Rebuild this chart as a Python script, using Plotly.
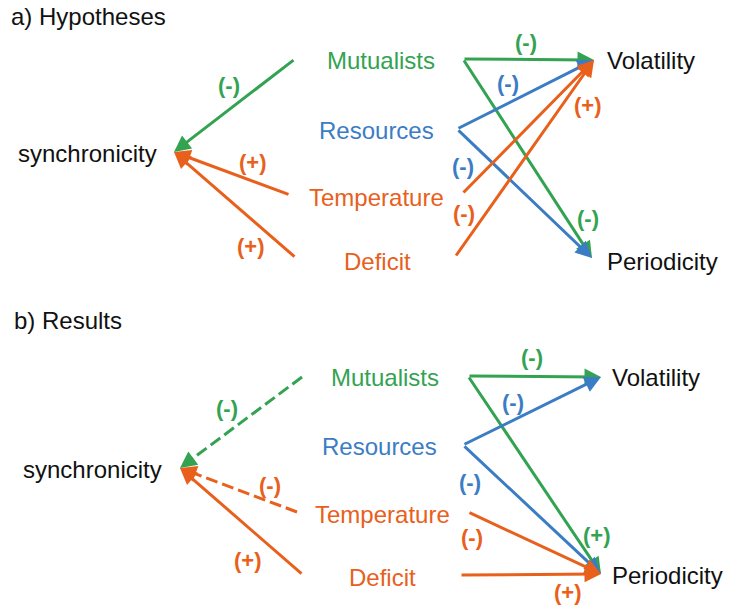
import plotly.graph_objects as go
import math

# ---------------- data ----------------
panel_titles = ["a) Hypotheses", "b) Results"]
predictors = ["Mutualists", "Resources", "Temperature", "Deficit"]
responses = ["synchronicity", "Volatility", "Periodicity"]

# edges: (source, target, sign, line style)
edges_a = [
    ("Mutualists", "synchronicity", "(-)", "solid"),
    ("Temperature", "synchronicity", "(+)", "solid"),
    ("Deficit", "synchronicity", "(+)", "solid"),
    ("Mutualists", "Volatility", "(-)", "solid"),
    ("Mutualists", "Periodicity", "(-)", "solid"),
    ("Resources", "Volatility", "(-)", "solid"),
    ("Resources", "Periodicity", "(-)", "solid"),
    ("Temperature", "Volatility", "(-)", "solid"),
    ("Deficit", "Volatility", "(+)", "solid"),
]
edges_b = [
    ("Mutualists", "synchronicity", "(-)", "dash"),
    ("Temperature", "synchronicity", "(-)", "dash"),
    ("Deficit", "synchronicity", "(+)", "solid"),
    ("Mutualists", "Volatility", "(-)", "solid"),
    ("Mutualists", "Periodicity", "(+)", "solid"),
    ("Resources", "Volatility", "(-)", "solid"),
    ("Resources", "Periodicity", "(-)", "solid"),
    ("Temperature", "Periodicity", "(-)", "solid"),
    ("Deficit", "Periodicity", "(+)", "solid"),
]

# ---------------- layout (pixel space) ----------------
GREEN = "#33a352"
BLUE = "#3b7dc4"
ORANGE = "#e8601c"
BLACK = "#111111"
node_color = {"Mutualists": GREEN, "Resources": BLUE, "Temperature": ORANGE,
              "Deficit": ORANGE, "synchronicity": BLACK, "Volatility": BLACK,
              "Periodicity": BLACK}

layout_a = {
    "title": (9, 16),
    "label": {"Mutualists": (381, 60), "Resources": (376, 130), "Temperature": (376, 197),
              "Deficit": (377, 261), "synchronicity": (87, 153), "Volatility": (605, 60),
              "Periodicity": (605, 261)},
    "left": {"Mutualists": (295, 59), "Temperature": (290, 195), "Deficit": (296, 258)},
    "right": {"Mutualists": (463, 59), "Resources": (457, 129), "Temperature": (462, 194),
              "Deficit": (455, 257)},
    "tip": {"synchronicity": (174, 152), "Volatility": (594, 60), "Periodicity": (592, 258)},
    "signs": [(229, 85), (253, 162), (251, 246), (526, 42), (588, 218), (508, 83),
              (463, 166), (464, 213), (588, 105)],
}
layout_b = {
    "title": (12, 320),
    "label": {"Mutualists": (385, 377), "Resources": (379, 446), "Temperature": (382, 514),
              "Deficit": (382, 577), "synchronicity": (92, 469), "Volatility": (610, 377),
              "Periodicity": (610, 575)},
    "left": {"Mutualists": (302, 377), "Temperature": (297, 512), "Deficit": (303, 575)},
    "right": {"Mutualists": (468, 376), "Resources": (463, 445), "Temperature": (468, 512),
              "Deficit": (460, 575)},
    "tip": {"synchronicity": (180, 468), "Volatility": (601, 377), "Periodicity": (601, 574)},
    "signs": [(227, 408), (270, 485), (248, 560), (532, 357), (597, 535), (513, 402),
              (470, 482), (472, 537), (568, 592)],
}

FONT = "Liberation Sans, Arial, sans-serif"
LW = 3
ASIZE = 1.1
HEAD = 5 * LW * ASIZE

fig = go.Figure()
annotations = []

for title, edges, L in [(panel_titles[0], edges_a, layout_a), (panel_titles[1], edges_b, layout_b)]:
    tx, ty = L["title"]
    annotations.append(dict(x=tx, y=ty, xref="x", yref="y", text=title, showarrow=False,
                            xanchor="left", yanchor="middle",
                            font=dict(family=FONT, size=24, color=BLACK)))
    for name in predictors + responses:
        x, y = L["label"][name]
        anchor = "left" if name in ("Volatility", "Periodicity") else "center"
        annotations.append(dict(x=x, y=y, xref="x", yref="y", text=name, showarrow=False,
                                xanchor=anchor, yanchor="middle",
                                font=dict(family=FONT, size=24, color=node_color[name])))
    for (src, tgt, sign, style), (sx_, sy_) in zip(edges, L["signs"]):
        color = node_color[src]
        if tgt == "synchronicity":
            x0, y0 = L["left"][src]
        else:
            x0, y0 = L["right"][src]
        x1, y1 = L["tip"][tgt]
        if style == "solid":
            annotations.append(dict(x=x1, y=y1, ax=x0, ay=y0, xref="x", yref="y",
                                    axref="x", ayref="y", text="", showarrow=True,
                                    arrowhead=2, arrowsize=ASIZE, arrowwidth=LW,
                                    arrowcolor=color, standoff=0))
        else:
            d = math.hypot(x1 - x0, y1 - y0)
            ux, uy = (x1 - x0) / d, (y1 - y0) / d
            bx, by = x1 - ux * (HEAD - 2), y1 - uy * (HEAD - 2)
            fig.add_trace(go.Scatter(x=[x0, bx], y=[y0, by], mode="lines",
                                     line=dict(color=color, width=LW, dash="12px,5px"),
                                     hoverinfo="skip", showlegend=False))
            annotations.append(dict(x=x1, y=y1, ax=bx - ux * 2, ay=by - uy * 2, xref="x", yref="y",
                                    axref="x", ayref="y", text="", showarrow=True,
                                    arrowhead=2, arrowsize=ASIZE, arrowwidth=LW,
                                    arrowcolor=color, standoff=0))
        annotations.append(dict(x=sx_, y=sy_, xref="x", yref="y", text="<b>" + sign + "</b>",
                                showarrow=False, xanchor="center", yanchor="middle",
                                font=dict(family=FONT, size=22, color=color)))

fig.update_layout(
    width=731, height=608,
    margin=dict(l=0, r=0, t=0, b=0),
    paper_bgcolor="white", plot_bgcolor="white",
    xaxis=dict(range=[0, 731], visible=False, fixedrange=True),
    yaxis=dict(range=[608, 0], visible=False, fixedrange=True),
    annotations=annotations,
    showlegend=False,
)

fig.write_html("out.html", config={"displayModeBar": False},
               post_script="document.body.style.margin='0';document.body.style.overflow='hidden';")
